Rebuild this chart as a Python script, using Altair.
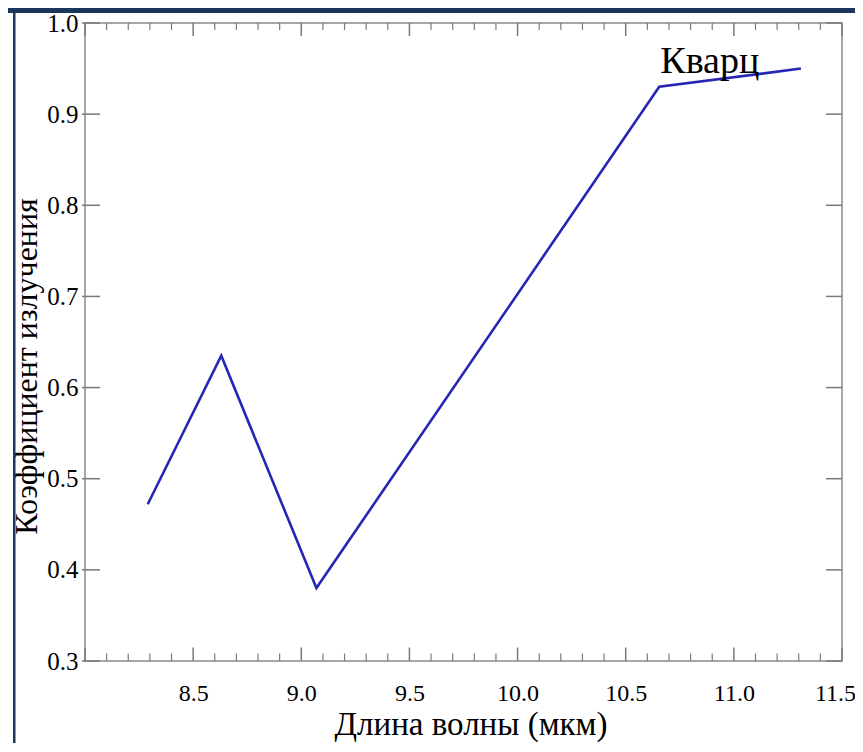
import altair as alt
import pandas as pd

# ---- data ----
wavelength = [8.29, 8.63, 9.07, 10.655, 11.31]
emissivity = [0.472, 0.635, 0.38, 0.93, 0.95]

label_text = ["Кварц"]
label_x = [10.66]
label_y = [0.945]

y_tick_values = [0.3, 0.4, 0.5, 0.6, 0.7, 0.8, 0.9, 1.0]
x_label_values = [8.5, 9.0, 9.5, 10.0, 10.5, 11.0, 11.5]
x_major_ticks = [8.0, 8.5, 9.0, 9.5, 10.0, 10.5, 11.0, 11.5]
x_minor_ticks = [8.1, 8.2, 8.3, 8.4, 8.6, 8.7, 8.8, 8.9, 9.1, 9.2, 9.3, 9.4,
                 9.6, 9.7, 9.8, 9.9, 10.1, 10.2, 10.3, 10.4, 10.6, 10.7, 10.8,
                 10.9, 11.1, 11.2, 11.3, 11.4]

W, H = 757, 638
FONT = "Liberation Serif"
LINE_COLOR = "#2626b4"
TICK_COLOR = "#7a7a7a"
BAND_COLOR = "#1b365d"

line_df = pd.DataFrame({"x": wavelength, "y": emissivity})
label_df = pd.DataFrame({"t": label_text, "x": label_x, "y": label_y})
ytick_df = pd.DataFrame({"y": y_tick_values})
xmaj_df = pd.DataFrame({"x": x_major_ticks})
xmin_df = pd.DataFrame({"x": x_minor_ticks})

xscale = alt.Scale(domain=[8.0, 11.5], nice=False, zero=False)
yscale = alt.Scale(domain=[0.3, 1.0], nice=False, zero=False)

xaxis = alt.Axis(
    values=x_label_values, format=".1f", title="Длина волны (мкм)",
    ticks=False, domain=False, grid=False, labelFlush=False,
    labelOffset=alt.expr("datum.value >= 11.5 ? -7 : 0"),
    labelFont=FONT, labelFontSize=24, labelColor="black", labelPadding=20,
    titleFont=FONT, titleFontSize=33, titleFontWeight="normal",
    titleColor="black", titlePadding=3, titleX=W / 2 + 7)
yaxis = alt.Axis(
    values=y_tick_values, format=".1f", title="Коэффициент излучения",
    ticks=False, domain=False, grid=False, labelFlush=False,
    labelFont=FONT, labelFontSize=25, labelColor="black", labelPadding=7,
    titleFont=FONT, titleFontSize=32, titleFontWeight="normal",
    titleColor="black", titlePadding=3, titleY=H / 2 + 24)

def X(f="x:Q"):
    return alt.X(f, scale=xscale, axis=xaxis)

def Y(f="y:Q"):
    return alt.Y(f, scale=yscale, axis=yaxis)

line = alt.Chart(line_df).mark_line(color=LINE_COLOR, strokeWidth=2.6).encode(
    x=X(), y=Y())

label = alt.Chart(label_df).mark_text(
    align="left", baseline="alphabetic", font=FONT, fontSize=38, color="black"
).encode(x=X(), y=Y(), text="t:N")

# inward ticks on all four sides
yl = alt.Chart(ytick_df).mark_rule(color=TICK_COLOR, strokeWidth=1.5).encode(
    y=Y(), x=alt.value(-3), x2=alt.value(15))
yr = alt.Chart(ytick_df).mark_rule(color=TICK_COLOR, strokeWidth=1.5).encode(
    y=Y(), x=alt.value(W - 16), x2=alt.value(W))
xb_maj = alt.Chart(xmaj_df).mark_rule(color=TICK_COLOR, strokeWidth=1.5).encode(
    x=X(), y=alt.value(H), y2=alt.value(H - 13.5))
xb_min = alt.Chart(xmin_df).mark_rule(color=TICK_COLOR, strokeWidth=1.2).encode(
    x=X(), y=alt.value(H), y2=alt.value(H - 7.5))
xt_maj = alt.Chart(xmaj_df).mark_rule(color=TICK_COLOR, strokeWidth=1.5).encode(
    x=X(), y=alt.value(0), y2=alt.value(13))
xt_min = alt.Chart(xmin_df).mark_rule(color=TICK_COLOR, strokeWidth=1.2).encode(
    x=X(), y=alt.value(0), y2=alt.value(7))

# page decoration: dark band at the top and thin line at the left
one = alt.Data(values=[{"k": 1}])
band = alt.Chart(one).mark_rect(color=BAND_COLOR).encode(
    x=alt.value(-80), x2=alt.value(W + 20), y=alt.value(-16), y2=alt.value(-10))
vline = alt.Chart(one).mark_rect(color=BAND_COLOR).encode(
    x=alt.value(-72), x2=alt.value(-69.5), y=alt.value(-16), y2=alt.value(H + 90))

chart = alt.layer(
    line, label, yl, yr, xb_maj, xb_min, xt_maj, xt_min, band, vline
).properties(
    width=W, height=H,
    autosize=alt.AutoSizeParams(type="none"),
    padding={"left": 77, "top": 15, "right": 13, "bottom": 82},
    background="white",
).configure_view(stroke="#8a8a8a", strokeWidth=1.5)

chart.save("out.html", embed_options={"renderer": "svg", "actions": False})
